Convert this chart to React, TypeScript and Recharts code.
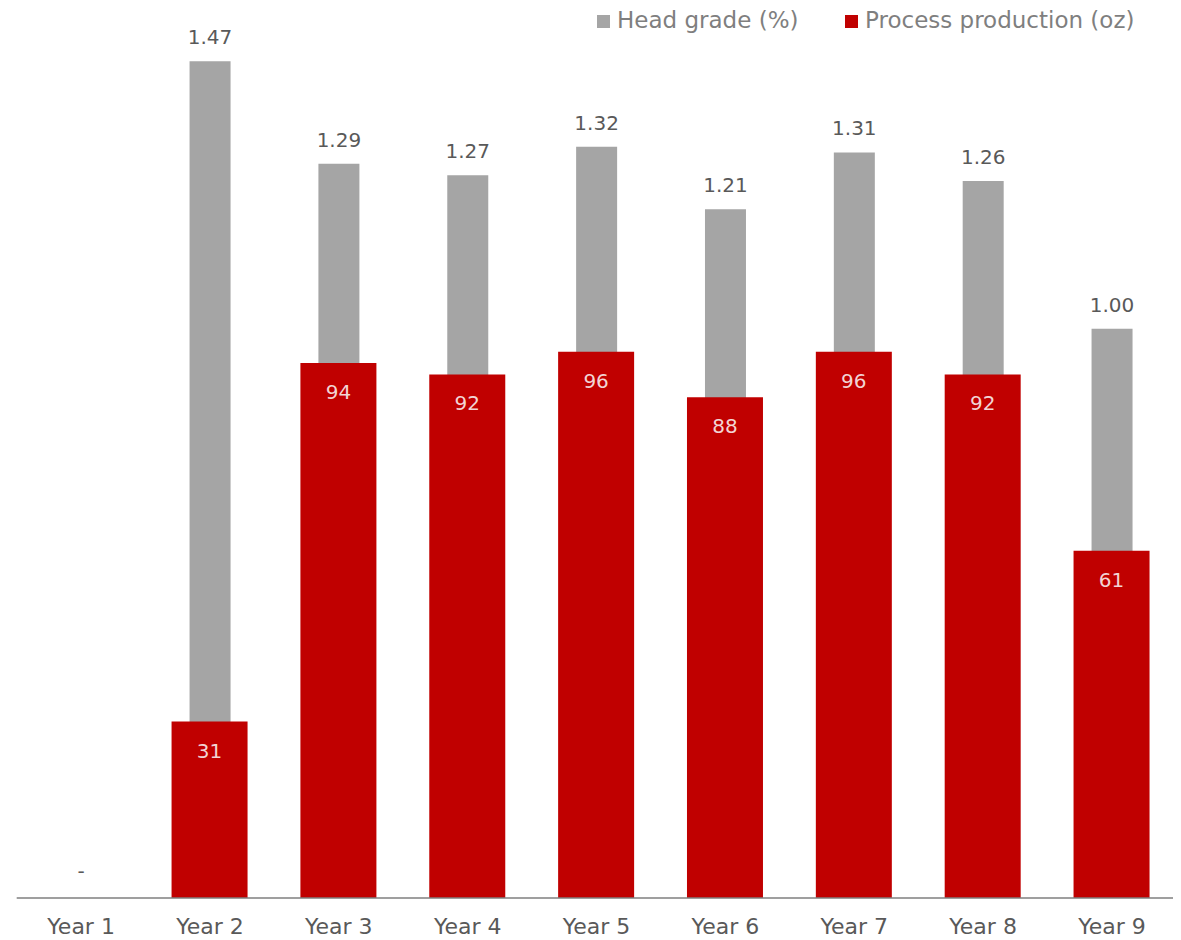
import { BarChart, Bar, XAxis, YAxis, LabelList, ReferenceDot } from "recharts";

const years = ["Year 1", "Year 2", "Year 3", "Year 4", "Year 5", "Year 6", "Year 7", "Year 8", "Year 9"];
// head grade (%), secondary axis
const headGrade = [0, 1.47, 1.29, 1.27, 1.32, 1.21, 1.31, 1.26, 1.0];
// process production (oz)
const production = [0, 31, 94, 92, 96, 88, 96, 92, 61];

const GREY = "#a5a5a5";
const RED = "#c00000";
const TEXT = "#595959";

const data = years.map((year, i) => ({ year, grade: headGrade[i], oz: production[i] }));

function GradeLabel(props: any) {
  const vb = props.viewBox ?? props;
  const { x, y, width } = vb;
  if (!props.value) return null;
  return (
    <text x={x + width / 2} y={y - 17} textAnchor="middle" fill={TEXT} fontSize={20}>
      {Number(props.value).toFixed(2)}
    </text>
  );
}

function ProdLabel(props: any) {
  const vb = props.viewBox ?? props;
  const { x, y, width } = vb;
  if (!props.value) return null;
  return (
    <text x={x + width / 2} y={y + 36} textAnchor="middle" fill="#f2d4d4" fontSize={20}>
      {props.value}
    </text>
  );
}

// zero production is shown as a dash just above the axis
function ZeroDash(props: any) {
  return (
    <text x={props.cx} y={props.cy - 20} textAnchor="middle" fill={TEXT} fontSize={20}>
      -
    </text>
  );
}

function LegendBox() {
  const item = (left: number, color: string, label: string) => (
    <div style={{ position: "absolute", left, top: 0, height: 30 }}>
      <div style={{ position: "absolute", left: 0, top: 7, width: 13, height: 13, background: color }} />
      <div
        style={{
          position: "absolute",
          left: 20,
          top: 0.5,
          fontSize: 23,
          lineHeight: "23px",
          color: "#7f7f7f",
          whiteSpace: "nowrap",
        }}
      >
        {label}
      </div>
    </div>
  );
  return (
    <>
      {item(589, GREY, "Head grade (%)")}
      {item(837, RED, "Process production (oz)")}
    </>
  );
}

export default function App() {
  return (
    <div style={{ position: "relative", width: 1173, height: 932, fontFamily: "'DejaVu Sans', sans-serif" }}>
      <BarChart width={1173} height={932} data={data} margin={{ top: 36.3, right: 4.6, left: 8.7, bottom: 0 }}>
        <XAxis
          xAxisId="main"
          dataKey="year"
          height={42}
          tickLine={false}
          tickMargin={14}
          axisLine={{ stroke: "#7f7f7f", strokeWidth: 1.5 }}
          tick={{ fill: TEXT, fontSize: 22 }}
        />
        <XAxis xAxisId="back" dataKey="year" orientation="top" height={0} hide />
        <YAxis yAxisId="oz" domain={[0, 150]} hide />
        <YAxis yAxisId="grade" domain={[0, 1.5]} hide />
        <Bar xAxisId="back" yAxisId="grade" dataKey="grade" fill={GREY} barSize={41} isAnimationActive={false}>
          <LabelList dataKey="grade" content={<GradeLabel />} />
        </Bar>
        <Bar xAxisId="main" yAxisId="oz" dataKey="oz" fill={RED} barSize={76} isAnimationActive={false}>
          <LabelList dataKey="oz" content={<ProdLabel />} />
        </Bar>
        {data
          .filter((d) => d.oz === 0)
          .map((d) => (
            <ReferenceDot key={d.year} xAxisId="main" yAxisId="oz" x={d.year} y={d.oz} r={0} shape={<ZeroDash />} />
          ))}
      </BarChart>
      <LegendBox />
    </div>
  );
}
